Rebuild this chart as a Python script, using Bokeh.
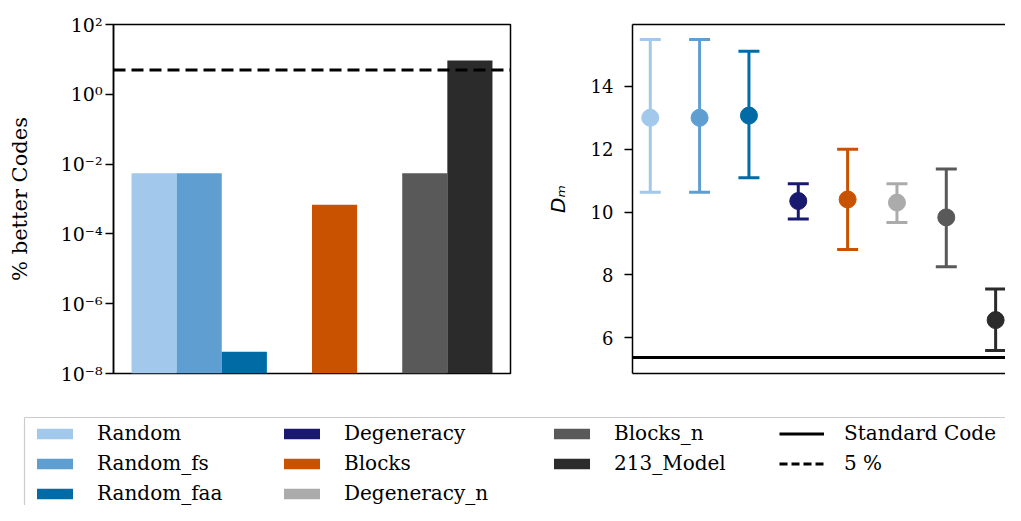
from bokeh.plotting import figure
from bokeh.models import (ColumnDataSource, Range1d, FixedTicker, CustomJSTickFormatter,
                          Span, Legend, LegendItem, LinearAxis)
from bokeh.layouts import column, row
from bokeh.embed import file_html
from bokeh.resources import INLINE

# ---------------- data ----------------
categories = ["Random", "Random_fs", "Random_faa", "Degeneracy", "Blocks",
              "Degeneracy_n", "Blocks_n", "213_Model"]
colors = ["#A2C8EC", "#5F9ED1", "#006BA4", "#191970", "#C85200",
          "#ABABAB", "#595959", "#2B2B2B"]
pct_better = [5.5e-3, 5.5e-3, 4.2e-8, 0.0, 6.8e-4, 0.0, 5.5e-3, 9.3]
dm_mean = [13.0, 13.0, 13.07, 10.35, 10.40, 10.30, 9.83, 6.56]
dm_upper = [15.49, 15.49, 15.12, 10.90, 12.00, 10.90, 11.37, 7.55]
dm_lower = [10.63, 10.63, 11.09, 9.78, 8.81, 9.67, 8.26, 5.59]
standard_code_dm = 5.37
threshold_pct = 5.0
log_ticks = [1e-8, 1e-6, 1e-4, 1e-2, 1e0, 1e2]
dm_ticks = [6, 8, 10, 12, 14]
line_labels = ["Standard Code", "5 %"]

FONT = "DejaVu Serif"
TICK_SIZE = "18px"
LOG_TICK_SIZE = "19px"
AXLABEL_SIZE = "21px"
LEG_SIZE = "20px"

xpos = list(range(len(categories)))

P1_W = 542
TOP_H = 395


def spine_axis(color="black", width=1.5):
    """An axis that only draws its line (no ticks, no labels)."""
    return LinearAxis(ticker=FixedTicker(ticks=[]), major_tick_line_color=None,
                      minor_tick_line_color=None, axis_line_color=color,
                      axis_line_width=width)


# ---------------- left: % better codes (log bars) ----------------
bar_idx = [i for i, v in enumerate(pct_better) if v > 0]
bar_src = ColumnDataSource(dict(
    x=[xpos[i] for i in bar_idx],
    top=[pct_better[i] for i in bar_idx],
    color=[colors[i] for i in bar_idx],
))

p1 = figure(width=P1_W, height=TOP_H, y_axis_type="log",
            x_range=Range1d(-0.9, 7.9), y_range=Range1d(1e-8, 1e2),
            output_backend="svg", toolbar_location=None,
            min_border_left=113, min_border_right=P1_W - 510,
            min_border_top=24, min_border_bottom=TOP_H - 373)
p1.vbar(x="x", top="top", bottom=1e-12, width=1.0, fill_color="color",
        line_color=None, source=bar_src)
p1.add_layout(Span(location=threshold_pct, dimension="width", line_color="black",
                   line_width=3, line_dash="12 6"))
p1.xaxis.visible = False
p1.grid.visible = False
p1.outline_line_color = "black"
p1.outline_line_width = 1.5
p1.outline_line_alpha = 1.0
ya = p1.yaxis[0]
ya.ticker = FixedTicker(ticks=log_ticks)
ya.formatter = CustomJSTickFormatter(code="""
const sup = {"-": "\u207b", "0": "\u2070", "1": "\u00b9", "2": "\u00b2", "3": "\u00b3",
             "4": "\u2074", "5": "\u2075", "6": "\u2076", "7": "\u2077", "8": "\u2078", "9": "\u2079"};
const e = Math.round(Math.log10(tick));
return "10" + String(e).split("").map(c => sup[c]).join("");
""")
ya.minor_tick_line_color = None
ya.major_tick_out = 8
ya.major_tick_in = 0
ya.major_tick_line_width = 1.5
ya.axis_line_width = 1.5
ya.major_label_standoff = 3
ya.major_label_text_font = FONT
ya.major_label_text_font_size = LOG_TICK_SIZE
ya.major_label_text_color = "black"
ya.axis_label = "% better Codes"
ya.axis_label_text_font = FONT
ya.axis_label_text_font_size = AXLABEL_SIZE
ya.axis_label_text_font_style = "normal"
ya.axis_label_text_color = "black"
ya.axis_label_standoff = 26

# ---------------- right: D_m with error bars ----------------
src2 = ColumnDataSource(dict(x=xpos, mean=dm_mean, upper=dm_upper,
                             lower=dm_lower, color=colors))
p2 = figure(width=1005 - P1_W, height=TOP_H,
            x_range=Range1d(-0.36, 7.2), y_range=Range1d(4.86, 15.97),
            x_axis_location=None,
            output_backend="svg", toolbar_location=None,
            min_border_left=630 - P1_W, min_border_right=0,
            min_border_top=24, min_border_bottom=TOP_H - 373)
p2.segment(x0="x", y0="lower", x1="x", y1="upper", line_color="color",
           line_width=3, source=src2)
p2.scatter(x="x", y="upper", marker="dash", size=21, line_color="color",
           line_width=3, source=src2)
p2.scatter(x="x", y="lower", marker="dash", size=21, line_color="color",
           line_width=3, source=src2)
p2.scatter(x="x", y="mean", marker="circle", size=17, fill_color="color",
           line_color="color", source=src2)
p2.add_layout(Span(location=standard_code_dm, dimension="width",
                   line_color="black", line_width=3))
p2.grid.visible = False
p2.outline_line_color = None
p2.add_layout(spine_axis(), "below")
p2.add_layout(spine_axis(), "above")
yb = p2.yaxis[0]
yb.ticker = FixedTicker(ticks=dm_ticks)
yb.minor_tick_line_color = None
yb.major_tick_out = 8
yb.major_tick_in = 0
yb.major_tick_line_width = 1.5
yb.axis_line_width = 1.5
yb.major_label_standoff = 11
yb.major_label_text_font = FONT
yb.major_label_text_font_size = TICK_SIZE
yb.major_label_text_color = "black"
yb.axis_label = "D\u2098"
yb.axis_label_text_font = "DejaVu Sans"
yb.axis_label_text_font_size = "20px"
yb.axis_label_text_font_style = "italic"
yb.axis_label_text_color = "black"
yb.axis_label_standoff = 18

# ---------------- legend panel ----------------
LEG_H = 505 - TOP_H
pl = figure(width=1005, height=LEG_H, x_range=Range1d(0, 1), y_range=Range1d(0, 1),
            x_axis_location=None, y_axis_location=None,
            output_backend="svg", toolbar_location=None,
            min_border_left=24, min_border_right=0,
            min_border_top=417 - TOP_H, min_border_bottom=0)
pl.grid.visible = False
pl.outline_line_color = None
pl.add_layout(spine_axis("#cccccc", 1.2), "left")
pl.add_layout(spine_axis("#cccccc", 1.2), "above")

# legend-only renderers (their single point lies outside the visible range)
bar_rs = []
for c in colors:
    bar_rs.append(pl.vbar(x=[-5], top=[-5], bottom=[-6], width=1, fill_color=c,
                          line_color=None))
line_rs = [pl.line(x=[-6, -5], y=[-6, -5], line_color="black", line_width=3),
           pl.line(x=[-6, -5], y=[-6, -5], line_color="black", line_width=3,
                   line_dash="8 4")]

frame_h = LEG_H - (417 - TOP_H)
top_off = 4
item_h = 24
spacing = 6


def make_legend(items, x):
    n = len(items)
    h = n * item_h + (n - 1) * spacing
    leg = Legend(items=items, location=(x, frame_h - top_off - h),
                 orientation="vertical", border_line_color=None,
                 background_fill_alpha=0, padding=0, margin=0,
                 spacing=spacing, glyph_width=45, glyph_height=13,
                 label_standoff=20, label_height=item_h,
                 label_text_font=FONT, label_text_font_size=LEG_SIZE,
                 label_text_color="black")
    pl.add_layout(leg)


col_groups = [[0, 1, 2], [3, 4, 5], [6, 7]]
col_x = [8, 255, 525]
for grp, x in zip(col_groups, col_x):
    make_legend([LegendItem(label=categories[i], renderers=[bar_rs[i]]) for i in grp], x)
make_legend([LegendItem(label=line_labels[k], renderers=[line_rs[k]]) for k in range(2)], 755)

layout = column(row(p1, p2), pl)
open("out.html", "w").write(file_html(layout, INLINE))
